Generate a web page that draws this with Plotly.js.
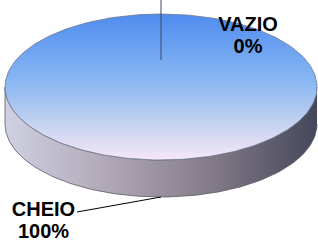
<!DOCTYPE html>
<html>
<head>
<meta charset="utf-8">
<script src="https://cdn.plot.ly/plotly-3.0.1.min.js"></script>
<style>html,body{margin:0;padding:0;background:#fff;}#chart{width:318px;height:244px;}</style>
</head>
<body>
<div id="chart"></div>
<script>
// Data
const categories = ['CHEIO', 'VAZIO'];
const values = [100, 0];

// Pie geometry (pixel-space axes)
const cx = 161, cy = 87, rx = 156, ry = 73, depth = 37;
const total = values.reduce((a, b) => a + b, 0);

function pt(deg, dy) {
  const r = deg * Math.PI / 180;
  return [cx + rx * Math.sin(r), cy - ry * Math.cos(r) + (dy || 0)];
}
function arc(a0, a1, dy) {
  const xs = [], ys = [];
  const n = Math.max(2, Math.ceil(Math.abs(a1 - a0) / 1.5));
  for (let i = 0; i <= n; i++) {
    const p = pt(a0 + (a1 - a0) * i / n, dy);
    xs.push(p[0]); ys.push(p[1]);
  }
  return [xs, ys];
}

const sideTraces = [], topTraces = [], lineTraces = [], textTraces = [];
let start = 0;
const labelPos = {
  CHEIO: {x: 43.5, y1: 210.5, y2: 233, lx: 77, ly: 212},
  VAZIO: {x: 248, y1: 25.5, y2: 47.5}
};
categories.forEach((cat, i) => {
  const span = values[i] / total * 360;
  const a0 = start, a1 = start + span;
  start = a1;
  const pct = Math.round(values[i] / total * 100) + '%';
  if (span > 0) {
    const s0 = Math.max(a0, 90), s1 = Math.min(a1, 270);
    if (s1 > s0) {
      const t = arc(s0, s1, 0), b = arc(s1, s0, depth);
      sideTraces.push({
        type: 'scatter', mode: 'lines', x: t[0].concat(b[0]), y: t[1].concat(b[1]),
        fill: 'toself', line: {color: '#5a5a66', width: 0.8},
        fillgradient: {type: 'horizontal', start: cx - rx, stop: cx + rx,
          colorscale: [[0, '#cfd1e2'], [0.3, '#b3abba'], [0.65, '#857c89'], [1, '#44475a']]},
        hoverinfo: 'skip'
      });
    }
    let xs, ys;
    if (span >= 360) { const a = arc(a0, a1, 0); xs = a[0]; ys = a[1]; }
    else { const a = arc(a0, a1, 0); xs = [cx].concat(a[0], [cx]); ys = [cy].concat(a[1], [cy]); }
    topTraces.push({
      type: 'scatter', mode: 'lines', x: xs, y: ys, fill: 'toself',
      line: {color: '#6b7790', width: 0.8},
      fillgradient: {type: 'vertical', start: cy - ry, stop: cy + ry,
        colorscale: [[0, '#4f8cee'], [0.45, '#87b6f3'], [0.75, '#c4d2f0'], [1, '#f6e8f6']]},
      hoverinfo: 'skip'
    });
    const mid = (a0 + a1) / 2;
    const p = pt(mid, depth);
    const lp = labelPos[cat];
    lineTraces.push({type: 'scatter', mode: 'lines', x: [lp.lx, p[0]], y: [lp.ly, p[1]],
      line: {color: '#000', width: 1}, hoverinfo: 'skip'});
  } else {
    const p = pt(a0, 0);
    lineTraces.push({type: 'scatter', mode: 'lines', x: [p[0], p[0]], y: [0, 60],
      line: {color: '#3c4a66', width: 1}, hoverinfo: 'skip'});
  }
  const lp = labelPos[cat];
  textTraces.push({
    type: 'scatter', mode: 'text', x: [lp.x, lp.x], y: [lp.y1, lp.y2],
    text: [cat, pct], textposition: 'middle center', cliponaxis: false,
    textfont: {family: 'Liberation Sans, Arial, sans-serif', size: 20, color: '#000', weight: 'bold'},
    hoverinfo: 'skip'
  });
});

const layout = {
  width: 318, height: 244,
  margin: {l: 0, r: 0, t: 0, b: 0, pad: 0},
  paper_bgcolor: '#fff', plot_bgcolor: '#fff',
  showlegend: false,
  xaxis: {range: [0, 318], visible: false, fixedrange: true},
  yaxis: {range: [244, 0], visible: false, fixedrange: true}
};
Plotly.newPlot('chart', sideTraces.concat(topTraces, lineTraces, textTraces), layout, {staticPlot: true, displayModeBar: false});
</script>
</body>
</html>
